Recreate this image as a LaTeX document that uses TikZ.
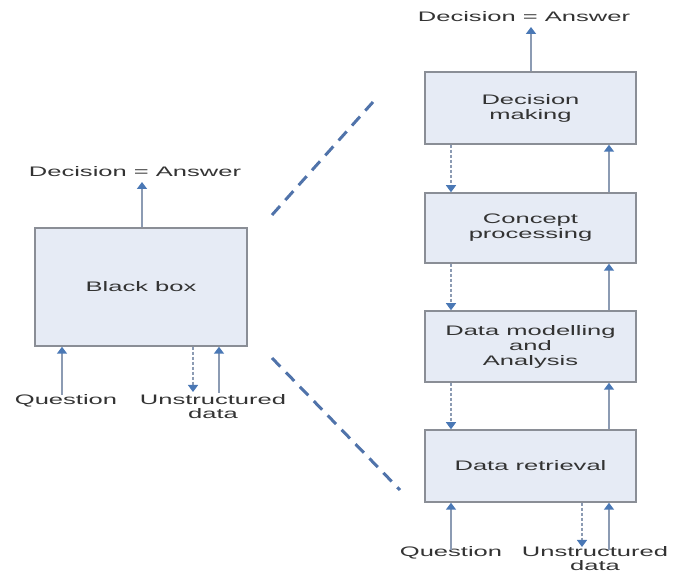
\documentclass[tikz,border=0pt]{standalone}
\usepackage{fontspec}
\setmainfont{Liberation Sans}[FakeStretch=1.85]
\usetikzlibrary{arrows.meta,calc}
\definecolor{boxfill}{HTML}{E6EBF5}
\definecolor{boxline}{HTML}{8A8E96}
\definecolor{shaft}{HTML}{8C9BB3}
\definecolor{headc}{HTML}{4A78B5}
\definecolor{zoomline}{HTML}{5073AA}
\definecolor{txt}{HTML}{333333}
\tikzset{
  stagebox/.style={draw=boxline, line width=1.5pt, fill=boxfill, align=center, inner sep=0pt, text=txt, font=\fontsize{13.8}{15}\selectfont},
  lbl/.style={anchor=base, align=center, text=txt, font=\fontsize{13.8}{14}\selectfont, inner sep=0pt},
  flow/.style={draw=shaft, line width=2.2pt, -{Triangle[width=10pt,length=7pt,color=headc]}},
  back/.style={draw=shaft, line width=1.3pt, dash pattern=on 3pt off 2pt, -{Triangle[width=10pt,length=7pt,color=headc]}},
  zoomdash/.style={draw=zoomline, line width=3pt, dash pattern=on 12pt off 8pt}
}
\begin{document}
\begin{tikzpicture}[x=1pt,y=-1pt]
\useasboundingbox (0,0) rectangle (673,577);
% left black box
\node[stagebox, minimum width=212pt, minimum height=118pt] (bb) at (141,287) {Black box};
\node[lbl] (ldec) at (135,177) {Decision = Answer};
\node[lbl] (lq) at (66,405) {Question};
\node[lbl] (lu) at (213,419) {Unstructured\\data};
\coordinate (lt) at (142,182);
\coordinate (lqs) at (62,395);
\coordinate (lde) at (193,392);
\coordinate (lus) at (219,393);
\draw[flow] (bb.north -| lt) -- (lt);
\draw[flow] (lqs) -- (bb.south -| lqs);
\draw[back] (bb.south -| lde) -- (lde);
\draw[flow] (lus) -- (bb.south -| lus);
% right stack
\node[stagebox, minimum width=211pt, minimum height=72pt] (dm) at (530.5,108) {Decision\\making};
\node[stagebox, minimum width=211pt, minimum height=70pt] (cp) at (530.5,228) {Concept\\processing};
\node[stagebox, minimum width=211pt, minimum height=71pt] (da) at (530.5,346.5) {Data modelling\\and\\Analysis};
\node[stagebox, minimum width=211pt, minimum height=72pt] (dr) at (530.5,466) {Data retrieval};
\node[lbl] (rdec) at (524,22) {Decision = Answer};
\node[lbl] (rq) at (451,557) {Question};
\node[lbl] (ru) at (595,571) {Unstructured\\data};
\coordinate (rt) at (531,27);
\coordinate (xl) at (451,0);
\coordinate (xr) at (609,0);
\coordinate (rqs) at (451,550);
\coordinate (rde) at (582,547);
\coordinate (rus) at (609,550);
\draw[flow] (dm.north -| rt) -- (rt);
\foreach \a/\b in {dm/cp, cp/da, da/dr}{
  \draw[back] (\a.south -| xl) -- (\b.north -| xl);
  \draw[flow] (\b.north -| xr) -- (\a.south -| xr);
}
\draw[flow] (rqs) -- (dr.south -| rqs);
\draw[back] (dr.south -| rde) -- (rde);
\draw[flow] (rus) -- (dr.south -| rus);
% zoom lines
\coordinate (z1a) at (272,215);
\coordinate (z1b) at (373,102);
\coordinate (z2a) at (272,358);
\coordinate (z2b) at (400,490);
\draw[zoomdash] (z1a) -- (z1b);
\draw[zoomdash] (z2a) -- (z2b);
\end{tikzpicture}
\end{document}
